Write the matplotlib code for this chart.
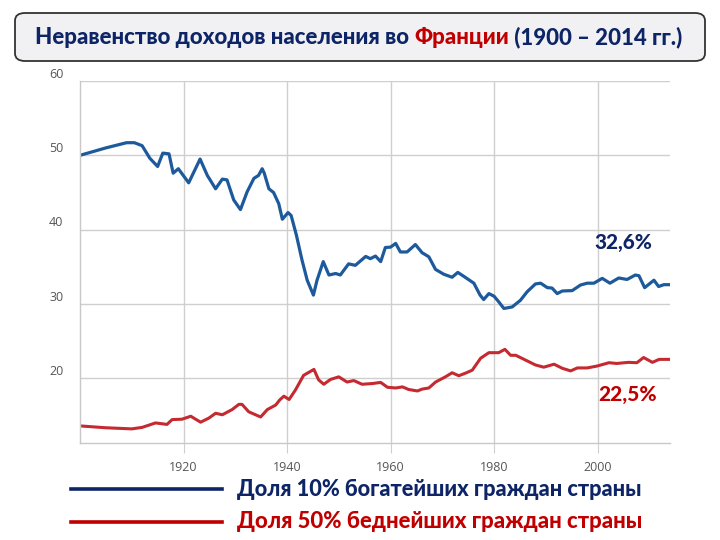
import numpy as np
import matplotlib
matplotlib.use('Agg')
import matplotlib.pyplot as plt
from matplotlib.patches import FancyBboxPatch
from matplotlib.lines import Line2D
from matplotlib.transforms import ScaledTranslation

# share of national income, France
top10_years = [1900, 1905, 1909, 1910.5, 1912, 1913.5, 1915, 1916, 1917.2, 1918,
               1919, 1921, 1923.2, 1924.6, 1926.2, 1927.5, 1928.4, 1929.7, 1931, 1932.3,
               1933.6, 1934.5, 1935.2, 1935.6, 1936.5, 1937.4, 1938.4, 1939.1, 1940.2, 1940.8,
               1941.8, 1942.9, 1943.9, 1945.1, 1945.8, 1947, 1948.1, 1949.4, 1950.3, 1951.9,
               1953.2, 1955.2, 1956.1, 1957.1, 1958.1, 1959.0, 1960.0, 1961.0, 1961.9, 1963.2,
               1964.8, 1966.1, 1967.4, 1968.7, 1970.3, 1971.9, 1973.0, 1974.2, 1976.1, 1977.3,
               1978.0, 1979.0, 1980.0, 1980.9, 1981.9, 1983.5, 1985.1, 1986.4, 1988.0, 1989.0,
               1990.3, 1991.2, 1992.2, 1993.2, 1995.1, 1996.7, 1998.0, 1999.3, 2000.9, 2002.4,
               2004.1, 2005.7, 2007.3, 2008.0, 2009.1, 2010.9, 2011.8, 2012.8, 2014]
top10_values = [50.0, 51.0, 51.7, 51.7, 51.3, 49.6, 48.5, 50.3, 50.2, 47.6,
                48.2, 46.3, 49.5, 47.3, 45.5, 46.8, 46.7, 44.0, 42.7, 45.1,
                46.9, 47.3, 48.2, 47.6, 45.5, 45.0, 43.5, 41.4, 42.3, 41.9,
                39.3, 35.9, 33.2, 31.2, 33.2, 35.7, 33.9, 34.1, 33.9, 35.4,
                35.2, 36.4, 36.1, 36.45, 35.7, 37.6, 37.65, 38.15, 37.0, 37.0,
                38.0, 36.9, 36.35, 34.65, 34.0, 33.6, 34.25, 33.7, 32.8, 31.2,
                30.6, 31.4, 31.05, 30.3, 29.4, 29.6, 30.5, 31.65, 32.7, 32.8,
                32.2, 32.15, 31.4, 31.75, 31.8, 32.55, 32.8, 32.8, 33.45, 32.8,
                33.5, 33.3, 33.9, 33.8, 32.2, 33.2, 32.35, 32.6, 32.6]

bottom50_years = [1900, 1905, 1910, 1912, 1914.6, 1916.8, 1917.8, 1919.7, 1921.4, 1923.3,
                  1924.9, 1926.2, 1927.5, 1929.4, 1930.7, 1931.3, 1932.6, 1934.9, 1936.2, 1937.8,
                  1938.6, 1939.4, 1940.4, 1941.6, 1943.2, 1945.2, 1946.1, 1947.1, 1948.4, 1950.0,
                  1951.6, 1952.9, 1954.5, 1956.5, 1958.1, 1959.4, 1961, 1962.3, 1963.5, 1965.2,
                  1966.1, 1967.4, 1968.7, 1970.6, 1971.9, 1973.2, 1974.5, 1975.8, 1977.4, 1979.0,
                  1980.9, 1982.1, 1983.2, 1984.2, 1986.1, 1988.0, 1989.6, 1991.6, 1993.2, 1994.8,
                  1996.1, 1998.0, 1999.9, 2002.2, 2003.7, 2006.0, 2007.6, 2008.9, 2010.6, 2011.9,
                  2014]
bottom50_values = [13.6, 13.35, 13.2, 13.4, 14.0, 13.8, 14.45, 14.5, 14.9, 14.1,
                   14.65, 15.3, 15.1, 15.8, 16.5, 16.5, 15.5, 14.8, 15.8, 16.4,
                   17.1, 17.6, 17.15, 18.4, 20.4, 21.2, 19.8, 19.2, 19.85, 20.2,
                   19.5, 19.7, 19.2, 19.3, 19.45, 18.8, 18.7, 18.85, 18.5, 18.3,
                   18.55, 18.7, 19.5, 20.2, 20.75, 20.35, 20.7, 21.1, 22.7, 23.45,
                   23.45, 23.9, 23.1, 23.1, 22.45, 21.8, 21.5, 21.9, 21.35, 21.0,
                   21.4, 21.4, 21.65, 22.1, 22.0, 22.15, 22.1, 22.8, 22.15, 22.55,
                   22.55]

xticks = [1920, 1940, 1960, 1980, 2000]
yticks = [20, 30, 40, 50, 60]

title_parts = [('Неравенство доходов населения во ', '#0d2466'),
               ('Франции', '#c00000'),
               (' (1900 – 2014 гг.)', '#0d2466')]
legend_labels = ['Доля 10% богатейших граждан страны', 'Доля 50% беднейших граждан страны']
end_labels = ['32,6%', '22,5%']

navy = '#0d2466'
dark_red = '#c00000'
blue_line = '#1d5a9c'
red_line = '#c42a30'
bold_font = ['Lato', 'DejaVu Sans']

fig = plt.figure(figsize=(7.2, 5.4), dpi=100)
W, H = 720, 540

ax = fig.add_axes([80 / W, 1 - 443 / H, 590 / W, 362 / H])
ax.plot(top10_years, top10_values, color=blue_line, lw=2.3, solid_capstyle='round')
ax.plot(bottom50_years, bottom50_values, color=red_line, lw=2.2, solid_capstyle='round')
ax.set_xlim(1900, 2014)
ax.set_ylim(11.3, 60)
ax.set_xticks(xticks)
ax.set_yticks(yticks)
ax.grid(color='#cfcfcf', lw=1)
ax.set_axisbelow(True)
for s in ['top', 'right']:
    ax.spines[s].set_visible(False)
for s in ['left', 'bottom']:
    ax.spines[s].set_color('#c8c8c8')
    ax.spines[s].set_linewidth(1)
ax.tick_params(axis='x', length=7, color='#cfcfcf', labelsize=9, labelcolor='#555555', pad=6)
ax.tick_params(axis='y', length=0, labelsize=9, labelcolor='#555555', pad=12)
for lab in ax.get_xticklabels() + ax.get_yticklabels():
    lab.set_fontfamily('Open Sans')
for lab in ax.get_yticklabels():
    lab.set_transform(lab.get_transform() + ScaledTranslation(0, 6 / 72, fig.dpi_scale_trans))

# title box
box = FancyBboxPatch((15 / W, 1 - 61 / H), 690 / W, 48 / H,
                     boxstyle='round,pad=0,rounding_size=0.014',
                     transform=fig.transFigure, facecolor='#f1f1f4',
                     edgecolor='#333333', lw=1.3)
fig.add_artist(box)


def text_row(parts, x0, y, size, target_w=None, ha='left'):
    r = fig.canvas.get_renderer()
    texts = []
    x = x0
    for s, c in parts:
        t = fig.text(x, y, s, color=c, fontsize=size, fontweight='black',
                     family=bold_font, va='center', ha='left')
        x += t.get_window_extent(r).width / W
        texts.append(t)
    total = x - x0
    if target_w is not None:
        k = target_w / (total * W)
        for t in texts:
            t.remove()
        return text_row(parts, x0, y, size * k, None, ha)
    if ha == 'center':
        for t in texts:
            px, py = t.get_position()
            t.set_position((px - total / 2, py))
    return texts


fig.canvas.draw()
text_row(title_parts, 359 / W, 1 - 37 / H, 20, target_w=650, ha='center')

text_row([(end_labels[0], navy)], 623 / W, 1 - 242 / H, 16, target_w=58, ha='center')
text_row([(end_labels[1], dark_red)], 627.5 / W, 1 - 395 / H, 16, target_w=59, ha='center')

for i, (lab, c) in enumerate(zip(legend_labels, [navy, dark_red])):
    yy = 1 - (489 + 33 * i) / H
    fig.add_artist(Line2D([71 / W, 222 / W], [yy, yy], color=c, lw=2.6,
                          transform=fig.transFigure))
    text_row([(lab, c)], 237 / W, yy, 16, target_w=405)

fig.savefig('out.png', dpi=100)
